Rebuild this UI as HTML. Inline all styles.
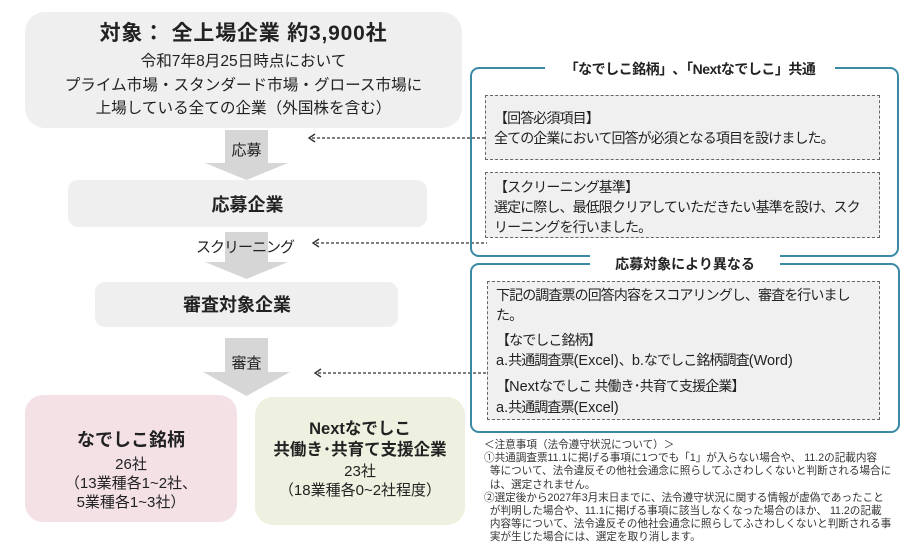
<!DOCTYPE html>
<html><head><meta charset="utf-8"><style>
*{margin:0;padding:0;box-sizing:border-box}
body{width:910px;height:555px;background:#fff;position:relative;overflow:hidden;font-family:"Liberation Sans","Noto Sans CJK JP",sans-serif;color:#222}
.a{position:absolute}
.c{text-align:center}
.box{position:absolute;background:#efefef;border-radius:14px}
.db{position:absolute;background:#f0f0f0;border:1.3px dashed #666;font-size:14px;letter-spacing:-0.9px;line-height:20px;padding:4px 8px;white-space:nowrap}
.db b{font-weight:normal;letter-spacing:0;font-size:14.5px}
.pan{position:absolute;border:2px solid #3a8aa5;border-radius:9px}
.pt{position:absolute;background:#fff;font-weight:bold;font-size:14px;text-align:center;line-height:18px}
</style></head><body>
<div class="box" style="left:25px;top:12px;width:437px;height:116px;border-radius:20px"></div>
<div class="a c" style="left:25px;top:21px;width:437px;font-size:21px;letter-spacing:0.8px;font-weight:bold;line-height:26px">対象： 全上場企業 約3,900社</div>
<div class="a c" style="left:25px;top:50px;width:437px;font-size:15.6px;line-height:23.5px">令和7年8月25日時点において<br>プライム市場・スタンダード市場・グロース市場に<br>上場している全ての企業（外国株を含む）</div>

<svg class="a" style="left:0;top:0" width="910" height="555">
<g fill="#d6d6d6">
<polygon points="225,130 268,130 268,163 288,163 246.5,180 205,163 225,163"/>
<polygon points="225,232 268,232 268,262 288,262 246.5,279 205,262 225,262"/>
<polygon points="225,338 268,338 268,372 290,372 246.5,396 203,372 225,372"/>
</g>
<g stroke="#333" stroke-width="1.3" stroke-dasharray="3,2" fill="none">
<line x1="312" y1="138" x2="486" y2="138"/>
<line x1="316" y1="243" x2="487" y2="243"/>
<line x1="318" y1="373" x2="487" y2="373"/>
</g>
<g stroke="#333" stroke-width="1.4" fill="none">
<polyline points="315,134 309,138 315,142"/>
<polyline points="319,239 313,243 319,247"/>
<polyline points="321,369 315,373 321,377"/>
</g>
</svg>
<div class="a c" style="left:200px;top:139px;width:93px;font-size:15px">応募</div>
<div class="box" style="left:68px;top:180px;width:359px;height:47px;border-radius:10px"></div>
<div class="a c" style="left:68px;top:191px;width:359px;font-size:18px;font-weight:bold">応募企業</div>
<div class="a c" style="left:180px;top:236px;width:130px;font-size:15px;letter-spacing:-1px">スクリーニング</div>
<div class="box" style="left:95px;top:282px;width:303px;height:45px;border-radius:10px"></div>
<div class="a" style="left:183px;top:291px;font-size:18px;font-weight:bold">審査対象企業</div>
<div class="a c" style="left:200px;top:352px;width:93px;font-size:15px">審査</div>

<div class="box" style="left:25px;top:395px;width:212px;height:127px;background:#f3e1e6;border-radius:18px"></div>
<div class="a c" style="left:25px;top:426px;width:212px;font-size:18px;font-weight:bold">なでしこ銘柄</div>
<div class="a c" style="left:25px;top:455px;width:212px;font-size:15px;line-height:19px">26社<br>（13業種各1~2社、<br>5業種各1~3社）</div>
<div class="box" style="left:255px;top:397px;width:210px;height:128px;background:#eef0e0;border-radius:18px"></div>
<div class="a c" style="left:255px;top:419px;width:210px;font-size:16.5px;font-weight:bold;line-height:21px">Nextなでしこ<br>共働き･共育て支援企業</div>
<div class="a c" style="left:255px;top:462px;width:210px;font-size:15px;line-height:19px">23社<br>（18業種各0~2社程度）</div>

<div class="pan" style="left:470px;top:67px;width:429px;height:190px"></div>
<div class="pt" style="left:545px;top:60px;width:290px;letter-spacing:-0.5px">「なでしこ銘柄」､「Nextなでしこ」共通</div>
<div class="db" style="left:485px;top:95px;width:395px;height:65px;padding-top:12px">【回答必須項目】<br>全ての企業において回答が必須となる項目を設けました。</div>
<div class="db" style="left:485px;top:172px;width:395px;height:66px;padding-top:4px">【スクリーニング基準】<br>選定に際し、最低限クリアしていただきたい基準を設け、スク<br>リーニングを行いました。</div>

<div class="pan" style="left:470px;top:263px;width:430px;height:170px"></div>
<div class="pt" style="left:590px;top:255px;width:190px">応募対象により異なる</div>
<div class="db" style="left:487px;top:281px;width:393px;height:139px;padding-top:3px;line-height:20px">下記の調査票の回答内容をスコアリングし、審査を行いまし<br>た。<div style="height:5px"></div>【なでしこ銘柄】<br><b>a.</b>共通調査票<b>(Excel)</b>、<b>b.</b>なでしこ銘柄調査<b>(Word)</b><div style="height:5px"></div>【<b>Next</b>なでしこ 共働き･共育て支援企業】<br><b>a.</b>共通調査票<b>(Excel)</b></div>

<div class="a" style="left:484px;top:439px;font-size:10.6px;line-height:13.2px;color:#333;white-space:nowrap">＜注意事項（法令遵守状況について）＞<br>①共通調査票11.1に掲げる事項に1つでも「1」が入らない場合や、 11.2の記載内容<br>&nbsp;&nbsp;等について、法令違反その他社会通念に照らしてふさわしくないと判断される場合に<br>&nbsp;&nbsp;は、選定されません。<br>②選定後から2027年3月末日までに、法令遵守状況に関する情報が虚偽であったこと<br>&nbsp;&nbsp;が判明した場合や、11.1に掲げる事項に該当しなくなった場合のほか、 11.2の記載<br>&nbsp;&nbsp;内容等について、法令違反その他社会通念に照らしてふさわしくないと判断される事<br>&nbsp;&nbsp;実が生じた場合には、選定を取り消します。</div>
</body></html>
